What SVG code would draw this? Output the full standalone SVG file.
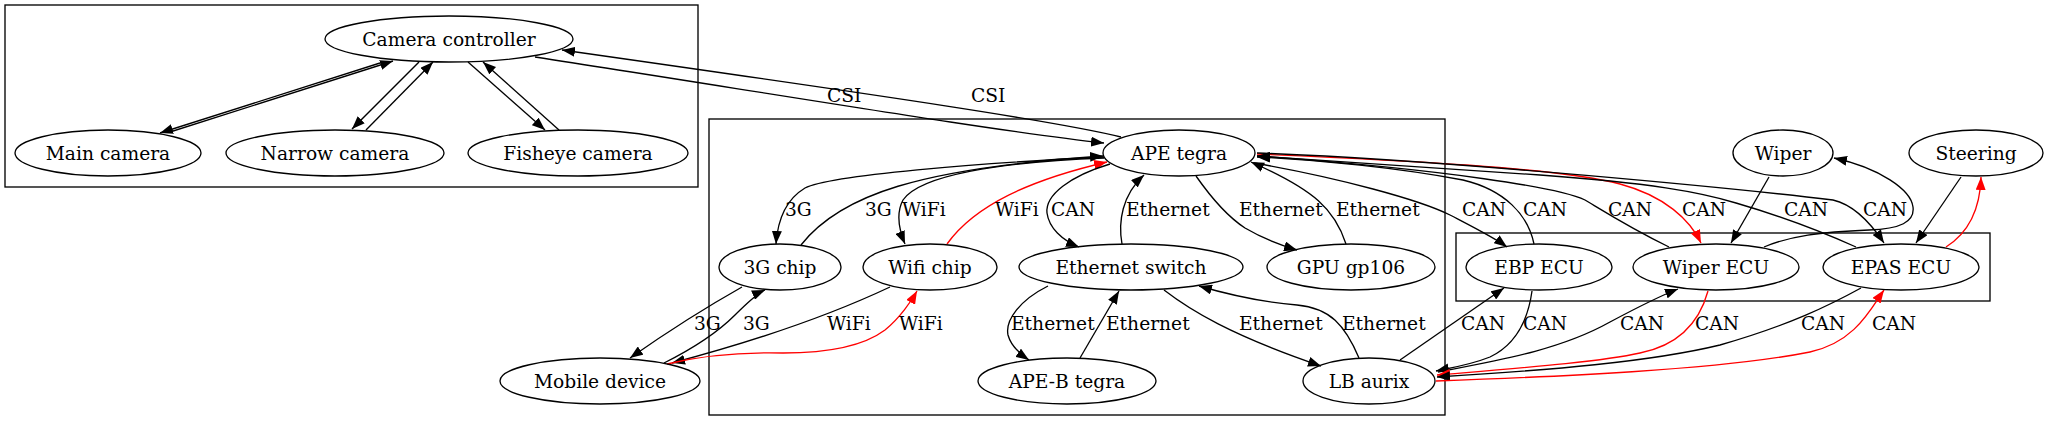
<svg xmlns="http://www.w3.org/2000/svg" width="2048" height="421" viewBox="0 0 2048 421">
<style>
.n{fill:none;stroke:#000;stroke-width:1.33}
.c{fill:none;stroke:#000;stroke-width:1.33}
.t{font-family:"DejaVu Serif","Liberation Serif",serif;font-size:18.67px;fill:#000}
.m{text-anchor:middle}
.e{fill:none;stroke:#000;stroke-width:1.33;marker-end:url(#ab)}
.r{fill:none;stroke:#f00;stroke-width:1.33;marker-end:url(#ar)}
</style>
<defs>
<marker id="ab" markerUnits="userSpaceOnUse" markerWidth="14" markerHeight="10" refX="13" refY="5" orient="auto"><path d="M0,0 L13,5 L0,10 z" fill="#000"/></marker>
<marker id="ar" markerUnits="userSpaceOnUse" markerWidth="14" markerHeight="10" refX="13" refY="5" orient="auto"><path d="M0,0 L13,5 L0,10 z" fill="#f00"/></marker>
</defs>
<rect width="2048" height="421" fill="#fff"/>
<g id="clusters">
<rect class="c" x="5" y="5" width="693" height="182"/>
<rect class="c" x="709" y="119" width="736" height="296"/>
<rect class="c" x="1456" y="233" width="534" height="68"/>
</g>
<g id="connectors">
<g><path class="e" d="M380,63 L160,133"/></g>
<g><path class="e" d="M170,132 L393,61"/></g>
<g><path class="e" d="M419,62 L352,129"/></g>
<g><path class="e" d="M366,130 L433,62"/></g>
<g><path class="e" d="M468,62 L545,130"/></g>
<g><path class="e" d="M559,130 L483,62"/></g>
<g><path class="e" d="M535,57 C750,90 1000,132 1104,143"/><text class="t" x="827" y="102">CSI</text></g>
<g><path class="e" d="M1121,137 C1060,122 900,98 562,50"/><text class="t" x="971" y="102">CSI</text></g>
<g><path class="e" d="M1104,157 C980,163 830,175 805,188 C790,197 778,215 776,244"/><text class="t" x="785" y="216">3G</text></g>
<g><path class="e" d="M801,245 C840,195 920,168 1103,156"/><text class="t" x="865" y="216">3G</text></g>
<g><path class="e" d="M1104,158 C1000,162 920,175 903,200 C895,215 900,232 905,244"/><text class="t" x="902" y="216">WiFi</text></g>
<g><path class="r" d="M947,244 C975,205 1030,180 1107,162"/><text class="t" x="995" y="216">WiFi</text></g>
<g><path class="e" d="M1110,164 C1070,176 1045,195 1047,213 C1049,228 1062,240 1079,247"/><text class="t" x="1051" y="216">CAN</text></g>
<g><path class="e" d="M1122,244 C1118,222 1122,195 1144,175"/><text class="t" x="1126" y="216">Ethernet</text></g>
<g><path class="e" d="M1196,176 C1210,196 1225,215 1245,228 C1262,238 1280,245 1297,250"/><text class="t" x="1239" y="216">Ethernet</text></g>
<g><path class="e" d="M1346,244 C1335,210 1315,190 1251,162"/><text class="t" x="1336" y="216">Ethernet</text></g>
<g><path class="e" d="M1048,286 C1020,300 1005,320 1008,335 C1011,346 1020,354 1029,360"/><text class="t" x="1011" y="330">Ethernet</text></g>
<g><path class="e" d="M1080,358 L1119,291"/><text class="t" x="1106" y="330">Ethernet</text></g>
<g><path class="e" d="M1164,290 C1190,310 1230,335 1321,366"/><text class="t" x="1239" y="330">Ethernet</text></g>
<g><path class="e" d="M1359,358 C1345,325 1330,308 1297,305 C1260,302 1230,295 1199,286"/><text class="t" x="1342" y="330">Ethernet</text></g>
<g><path class="e" d="M742,287 C710,305 670,330 630,358"/><text class="t" x="694" y="330">3G</text></g>
<g><path class="e" d="M664,363 C700,345 720,330 735,315 C748,302 758,293 765,290"/><text class="t" x="743" y="330">3G</text></g>
<g><path class="e" d="M890,287 C820,320 740,345 672,363"/><text class="t" x="827" y="330">WiFi</text></g>
<g><path class="r" d="M667,364 C700,356 740,352 783,353 C830,353 865,345 885,330 C900,318 912,300 917,291"/><text class="t" x="899" y="330">WiFi</text></g>
<g><path class="e" d="M1254,163 C1340,178 1420,200 1450,215 C1475,228 1495,238 1507,247"/><text class="t" x="1462" y="216">CAN</text></g>
<g><path class="e" d="M1534,244 C1528,215 1505,190 1463,180 C1400,168 1320,160 1257,157"/><text class="t" x="1523" y="216">CAN</text></g>
<g><path class="e" d="M1669,247 C1630,228 1605,212 1585,200 C1560,188 1450,170 1257,156"/><text class="t" x="1608" y="216">CAN</text></g>
<g><path class="r" d="M1257,154 C1400,160 1560,168 1620,184 C1665,196 1690,220 1701,243"/><text class="t" x="1682" y="216">CAN</text></g>
<g><path class="e" d="M1856,247 C1800,222 1760,210 1736,203 C1700,192 1650,183 1540,175 C1420,167 1320,160 1257,156"/><text class="t" x="1784" y="216">CAN</text></g>
<g><path class="e" d="M1257,153 C1450,160 1750,190 1833,200 C1855,205 1872,225 1884,243"/><text class="t" x="1863" y="216">CAN</text></g>
<g><path class="e" d="M1769,177 L1731,243"/></g>
<g><path class="e" d="M1764,247 C1790,236 1820,232 1869,230 C1900,229 1915,222 1913,207 C1911,190 1880,168 1834,158"/></g>
<g><path class="e" d="M1961,177 L1916,243"/></g>
<g><path class="r" d="M1946,247 C1965,235 1980,215 1981,177"/></g>
<g><path class="e" d="M1400,360 L1504,288"/><text class="t" x="1461" y="330">CAN</text></g>
<g><path class="e" d="M1532,291 C1528,320 1515,345 1490,357 C1470,365 1450,368 1436,371"/><text class="t" x="1523" y="330">CAN</text></g>
<g><path class="e" d="M1438,372 C1500,360 1560,350 1610,322 C1640,306 1660,296 1678,289"/><text class="t" x="1620" y="330">CAN</text></g>
<g><path class="r" d="M1708,291 C1700,320 1680,345 1640,353 C1600,362 1520,368 1437,375"/><text class="t" x="1695" y="330">CAN</text></g>
<g><path class="e" d="M1861,288 C1830,305 1790,325 1720,345 C1650,362 1550,370 1437,377"/><text class="t" x="1801" y="330">CAN</text></g>
<g><path class="r" d="M1436,381 C1550,377 1720,370 1810,352 C1855,342 1870,310 1884,290"/><text class="t" x="1872" y="330">CAN</text></g>
</g>
<g id="ctrl"><ellipse class="n" cx="449" cy="39" rx="124" ry="23"/><text class="t m" x="449" y="45.5">Camera controller</text></g>
<g id="main"><ellipse class="n" cx="108" cy="153" rx="93" ry="23"/><text class="t m" x="108" y="159.5">Main camera</text></g>
<g id="narrow"><ellipse class="n" cx="335" cy="153" rx="109" ry="23"/><text class="t m" x="335" y="159.5">Narrow camera</text></g>
<g id="fisheye"><ellipse class="n" cx="578" cy="153" rx="110" ry="23"/><text class="t m" x="578" y="159.5">Fisheye camera</text></g>
<g id="ape"><ellipse class="n" cx="1179" cy="153" rx="76" ry="23"/><text class="t m" x="1179" y="159.5">APE tegra</text></g>
<g id="g3"><ellipse class="n" cx="780" cy="267" rx="61" ry="23"/><text class="t m" x="780" y="273.5">3G chip</text></g>
<g id="wifi"><ellipse class="n" cx="930" cy="267" rx="67" ry="23"/><text class="t m" x="930" y="273.5">Wifi chip</text></g>
<g id="eth"><ellipse class="n" cx="1131" cy="267" rx="112" ry="23"/><text class="t m" x="1131" y="273.5">Ethernet switch</text></g>
<g id="gpu"><ellipse class="n" cx="1351" cy="267" rx="84" ry="23"/><text class="t m" x="1351" y="273.5">GPU gp106</text></g>
<g id="apeb"><ellipse class="n" cx="1067" cy="381" rx="89" ry="23"/><text class="t m" x="1067" y="387.5">APE-B tegra</text></g>
<g id="lb"><ellipse class="n" cx="1369" cy="381" rx="66" ry="23"/><text class="t m" x="1369" y="387.5">LB aurix</text></g>
<g id="mobile"><ellipse class="n" cx="600" cy="381" rx="100" ry="23"/><text class="t m" x="600" y="387.5">Mobile device</text></g>
<g id="ebp"><ellipse class="n" cx="1539" cy="267" rx="73" ry="23"/><text class="t m" x="1539" y="273.5">EBP ECU</text></g>
<g id="wecu"><ellipse class="n" cx="1716" cy="267" rx="83" ry="23"/><text class="t m" x="1716" y="273.5">Wiper ECU</text></g>
<g id="epas"><ellipse class="n" cx="1901" cy="267" rx="78" ry="23"/><text class="t m" x="1901" y="273.5">EPAS ECU</text></g>
<g id="wiper"><ellipse class="n" cx="1783" cy="153" rx="50" ry="23"/><text class="t m" x="1783" y="159.5">Wiper</text></g>
<g id="steering"><ellipse class="n" cx="1976" cy="153" rx="67" ry="23"/><text class="t m" x="1976" y="159.5">Steering</text></g>
</svg>
